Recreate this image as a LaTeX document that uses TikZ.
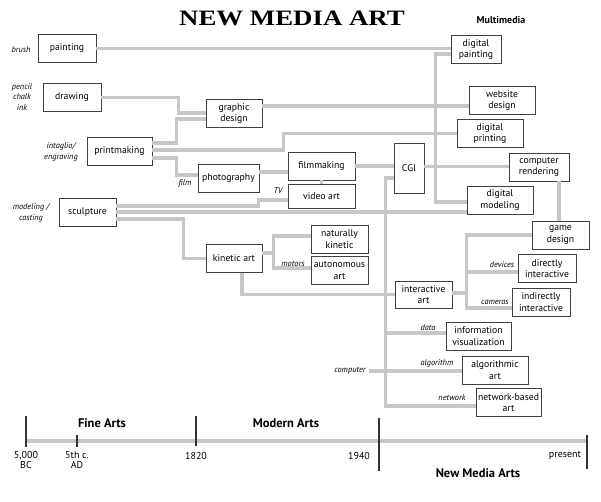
\documentclass[tikz,border=0pt]{standalone}
\usepackage{fontspec}
\setmainfont{PT Sans}
\newfontfamily\titlefont[FakeStretch=1.22]{Liberation Serif}
\usetikzlibrary{calc,positioning}

\begin{document}
\begin{tikzpicture}[x=1pt, y=-1pt, artbox/.style = {draw=black!75, line width=0.9pt, fill=white, align=center, inner sep=1pt, minimum width=#1pt, minimum height=28pt, font=\fontsize{9.7}{11.5}\selectfont}, artbox/.default = 58, link/.style = {draw=black!22, line width=3.5pt}, tag/.style = {align=center, font=\fontsize{8.3}{10.5}\selectfont\itshape}, era/.style = {font=\fontsize{12.5}{14}\selectfont\bfseries}, year/.style = {align=center, font=\fontsize{10}{10}\selectfont}, tick/.style = {draw=black!80, line width=1.3pt}]
	\useasboundingbox (0,0) rectangle (601,502);
	\node (title) at (292,18) {\titlefont\bfseries\fontsize{22}{22}\selectfont NEW MEDIA ART};
	\node[font=\fontsize{10}{10}\selectfont\bfseries] (multimedia) at (501,20.5) {Multimedia};
	\node[artbox] (painting) at (67,48.5) {painting};
	\node[artbox] (drawing) at (72,97.5) {drawing};
	\node[artbox=56] (graphic) at (234,113.5) {graphic\\design};
	\node[artbox=65] (printmaking) at (119.5,151.5) {printmaking};
	\node[artbox=61] (photography) at (228.5,178.5) {photography};
	\node[artbox=67] (filmmaking) at (321.5,166) {filmmaking};
	\node[artbox=67, minimum height=24pt] (videoart) at (321.5,196) {video art};
	\node[artbox=57] (sculpture) at (87.5,212) {sculpture};
	\node[artbox=56] (kinetic) at (234,258.5) {kinetic art};
	\node[artbox=57] (natkinetic) at (339.5,239) {naturally\\kinetic};
	\node[artbox=57] (autonomous) at (339.5,270.5) {autonomous\\art};
	\node[artbox=50] (dpainting) at (476,49.5) {digital\\painting};
	\node[artbox=66] (website) at (502,100.5) {website\\design};
	\node[artbox=66] (dprinting) at (490,133.5) {digital\\printing};
	\node[artbox=30, minimum height=50pt] (cgi) at (409,168) {CGI};
	\node[artbox=60] (rendering) at (539,167) {computer\\rendering};
	\node[artbox=66] (dmodeling) at (500,200) {digital\\modeling};
	\node[artbox=57] (game) at (560.5,235) {game\\design};
	\node[artbox=57, minimum height=27pt] (interactive) at (423.5,294.5) {interactive\\art};
	\node[artbox] (direct) at (547,268.5) {directly\\interactive};
	\node[artbox] (indirect) at (541,302) {indirectly\\interactive};
	\node[artbox=65] (infovis) at (478.5,336) {information\\visualization};
	\node[artbox=66] (algorithmic) at (495,370) {algorithmic\\art};
	\node[artbox=65] (network) at (508.5,402.5) {network-based\\art};
	\node[tag] (brush) at (21,50) {brush};
	\node[tag] (pencil) at (22,97) {pencil\\chalk\\ink};
	\node[tag] (intaglio) at (61,152) {intaglio/\\engraving};
	\node[tag] (film) at (185,183) {film};
	\node[tag] (tv) at (278,191) {TV};
	\node[tag] (modeling) at (31,213) {modeling /\\casting};
	\node[tag] (motors) at (293,264) {motors};
	\node[tag] (devices) at (502,265) {devices};
	\node[tag] (cameras) at (495,302) {cameras};
	\node[tag] (data) at (428,328) {data};
	\node[tag] (algorithm) at (437,363) {algorithm};
	\node[tag] (networktag) at (452,398) {network};
	\node[tag] (computer) at (350,371) {computer};
	\draw[link] (painting.east) -- (painting.east -| dpainting.west);
	\draw[link] (drawing.east) -- ++(77,0) |- ($(graphic.west)+(0,-0.5)$);
	\draw[link] ($(printmaking.east)+(0,-8.5)$) -- ++(24,0) |- ($(graphic.west)+(0,5.5)$);
	\draw[link] ($(printmaking.east)+(0,-1.5)$) -- ++(131,0) |- (dprinting.west);
	\draw[link] ($(printmaking.east)+(0,6.5)$) -- ++(24,0) |- ($(photography.west)+(0,-3.5)$);
	\draw[link] ($(photography.east)+(0,-6.5)$) -- ($(filmmaking.west)+(0,6)$);
	\draw[link] (filmmaking) -- (videoart);
	\draw[link] (filmmaking.east) -- (filmmaking.east -| cgi.west);
	\draw[link] ($(cgi.east)+(0,-1.5)$) -- ($(rendering.west)+(0,-0.5)$);
	\draw[link] ($(dpainting.west)+(0,4.5)$) -- ++(-15,0) |- ($(dmodeling.west)+(0,2)$);
	\draw[link] ($(graphic.east)+(0,-7.5)$) -- ($(website.west)+(0,5.5)$);
	\draw[link] ($(sculpture.east)+(0,-6)$) -- ++(142,0) |- ($(videoart.west)+(0,4)$);
	\draw[link] (sculpture.east) -- ($(dmodeling.west)+(0,12)$);
	\draw[link] ($(sculpture.east)+(0,7)$) -- ++(67,0) |- (kinetic.west);
	\draw[link] ($(kinetic.east)+(0,-5.5)$) -- ++(12,0);
	\draw[link] ($(natkinetic.west)+(0,-3)$) -- ++(-37,0) |- ($(autonomous.west)+(0,-2.5)$);
	\draw[link] ($(kinetic.south)+(8,0)$) |- (interactive.west);
	\draw[link] ($(cgi.west)+(0,10)$) -- ++(-8,0) |- ($(network.west)+(0,3.5)$);
	\draw[link] ($(infovis.west)+(0,-3)$) -- ++(-60,0);
	\draw[link] (computer.east) -- (computer.east -| algorithmic.west);
	\draw[link] ($(interactive.east)+(0,-1.5)$) -- ++(15,0);
	\draw[link] (game.west) -- ++(-65,0) |- ($(indirect.west)+(0,6)$);
	\draw[link] ($(direct.west)+(0,3.5)$) -- ++(-51,0);
	\draw[link] ($(rendering.south)+(20,0)$) -- ($(game.north)+(-1.5,0)$);
	\coordinate (start) at (26,441);
	\coordinate (now) at (587,441);
	\draw[link, line width=4.5pt] (start) -- (now);
	\foreach \x/\a/\b in {26/416/447, 77/435/447, 196/416/446, 379/418/471, 587/435/469}
		\draw[tick] (\x,\a) -- (\x,\b);
	\node[year] (bc) at (26,460) {5,000\\BC};
	\node[year] (ad) at (77,460) {5th c.\\AD};
	\node[year] (y1820) at (196,455.5) {1820};
	\node[year] (y1940) at (359,455.5) {1940};
	\node[year] (present) at (565,455.5) {present};
	\node[era] (fine) at (102,423) {Fine Arts};
	\node[era] (modern) at (286,423) {Modern Arts};
	\node[era] (newmedia) at (478,473) {New Media Arts};
\end{tikzpicture}
\end{document}
